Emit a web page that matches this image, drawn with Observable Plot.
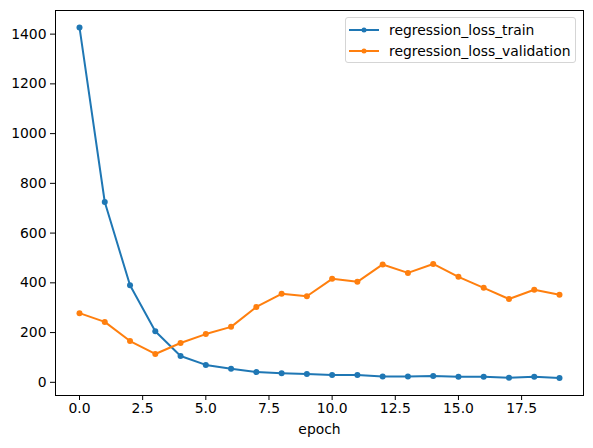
<!DOCTYPE html>
<html>
<head>
<meta charset="utf-8">
<script src="https://cdn.jsdelivr.net/npm/d3@7"></script>
<script src="https://cdn.jsdelivr.net/npm/@observablehq/plot@0.6"></script>
<style>
  body { margin: 0; background: #fff; }
  #wrap { position: relative; width: 593px; height: 448px; font-family: "DejaVu Sans", sans-serif; }
  #legend { position: absolute; left: 345px; top: 17px; width: 229px; height: 44px; border: 1px solid #d5d5d5; border-radius: 3px; background: rgba(255,255,255,0.8); font-size: 13.9px; color: #000; }
  .entry { position: absolute; left: 0; height: 20px; display: flex; align-items: center; white-space: nowrap; }
  .entry svg { margin-left: 3px; margin-right: 10px; }
</style>
</head>
<body>
<div id="wrap"><div id="legend"></div></div>
<script>
const epochs = [0,1,2,3,4,5,6,7,8,9,10,11,12,13,14,15,16,17,18,19];
const trainLoss = [1427,725,390,205,106,70,55,41,36,33,29,29,23,23,25,22,22,18,22,17];
const validationLoss = [278,243,166,114,158,194,223,303,356,346,416,404,474,440,476,424,380,335,372,352];
const seriesNames = ["regression_loss_train","regression_loss_validation"];
const seriesColors = ["#1f77b4","#ff7f0e"];
const xTicks = [0,2.5,5,7.5,10,12.5,15,17.5];
const yTicks = [0,200,400,600,800,1000,1200,1400];

const rows = [];
epochs.forEach((e,i) => {
  rows.push({epoch: e, loss: trainLoss[i], series: seriesNames[0]});
  rows.push({epoch: e, loss: validationLoss[i], series: seriesNames[1]});
});

const chart = Plot.plot({
  width: 593,
  height: 448,
  marginLeft: 55,
  marginRight: 10,
  marginTop: 10,
  marginBottom: 53,
  style: {fontFamily: "DejaVu Sans, sans-serif", fontSize: "13.9px", color: "#000", background: "#fff"},
  x: {domain: [-0.95, 19.95]},
  y: {domain: [-53, 1495]},
  color: {domain: seriesNames, range: seriesColors},
  marks: [
    Plot.frame({stroke: "#000", strokeWidth: 1}),
    Plot.axisX({ticks: xTicks, tickFormat: d3.format(".1f"), tickSize: 5, tickPadding: 3, fontSize: 13.9, label: "epoch", labelAnchor: "center", labelArrow: "none", labelOffset: 38}),
    Plot.axisY({ticks: yTicks, tickFormat: d => String(d), tickSize: 5, tickPadding: 4, fontSize: 13.9, label: null}),
    Plot.line(rows, {x: "epoch", y: "loss", stroke: "series", strokeWidth: 2}),
    Plot.dot(rows, {x: "epoch", y: "loss", fill: "series", r: 3, stroke: "none"})
  ]
});
document.getElementById("wrap").prepend(chart);

const legend = document.getElementById("legend");
seriesNames.forEach((name, i) => {
  const div = document.createElement("div");
  div.className = "entry";
  div.style.top = (2 + i * 21) + "px";
  div.innerHTML = `<svg width="30" height="10"><line x1="0" x2="30" y1="5" y2="5" stroke="${seriesColors[i]}" stroke-width="2"/><circle cx="15" cy="5" r="2.5" fill="${seriesColors[i]}"/></svg><span>${name}</span>`;
  legend.appendChild(div);
});
</script>
</body>
</html>
